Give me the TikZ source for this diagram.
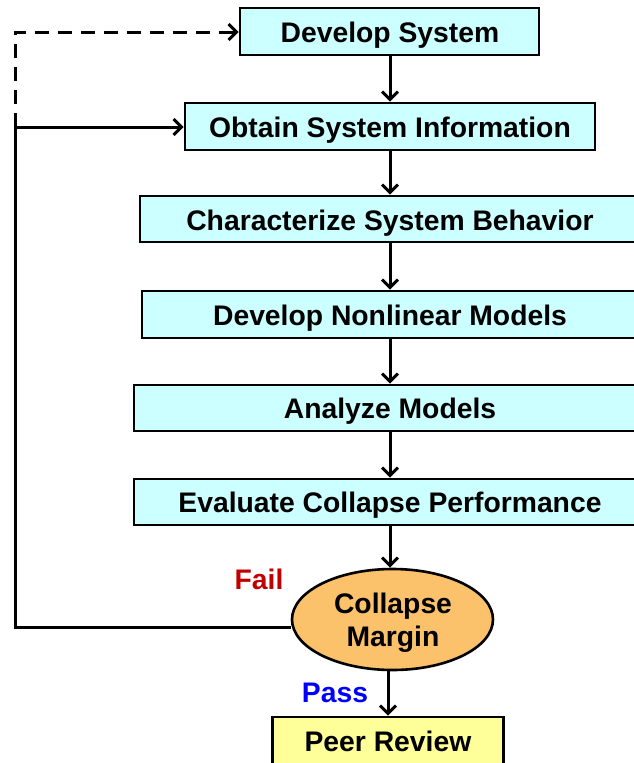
\documentclass[tikz,border=0pt]{standalone}
\usepackage{fontspec}
\setmainfont{Liberation Sans}
\usetikzlibrary{arrows.meta,shapes.geometric}
\definecolor{boxcyan}{HTML}{CCFFFF}
\definecolor{ellorange}{HTML}{FCC26B}
\definecolor{prYellow}{HTML}{FFFF99}
\definecolor{failred}{HTML}{C00000}
\definecolor{passblue}{HTML}{0000FF}
\begin{document}
\begin{tikzpicture}[x=1pt,y=-1pt,
  boxshape/.style={draw=black,line width=2.6pt,fill=boxcyan,rectangle,inner sep=0pt},
  lbl/.style={font=\bfseries\fontsize{28.3}{30}\selectfont,inner sep=0pt,anchor=center},
  flow/.style={line width=3pt,-{Straight Barb[length=8pt,width=16pt,line width=3pt]}},
  plain/.style={line width=3pt},
  dashline/.style={line width=3pt,dash pattern=on 14pt off 9pt}]
\useasboundingbox (0,0) rectangle (634,763);
\clip (0,0) rectangle (634,763);
\fill[white] (0,0) rectangle (634,763);
% boxes
\node[boxshape,minimum width=299pt,minimum height=47pt] (b1) at (389.5,31.5) {};
\node[boxshape,minimum width=410pt,minimum height=47pt] (b2) at (390,126.5) {};
\node[boxshape,minimum width=520pt,minimum height=46pt] (b3) at (400,219) {};
\node[boxshape,minimum width=520pt,minimum height=47pt] (b4) at (402,314.5) {};
\node[boxshape,minimum width=520pt,minimum height=46pt] (b5) at (394,408) {};
\node[boxshape,minimum width=520pt,minimum height=46pt] (b6) at (394,502) {};
\node[ellipse,draw=black,line width=2.6pt,fill=ellorange,minimum width=201pt,minimum height=101pt,inner sep=0pt] (ell) at (392.5,619.5) {};
\node[draw=black,line width=2.6pt,fill=prYellow,rectangle,minimum width=231pt,minimum height=50pt,inner sep=0pt] (b8) at (388,742) {};
% labels
\node[lbl] (t1) at (390,35) {Develop System};
\node[lbl] (t2) at (390,130) {Obtain System Information};
\node[lbl] (t3) at (390,223) {Characterize System Behavior};
\node[lbl] (t4) at (390,318) {Develop Nonlinear Models};
\node[lbl] (t5) at (390,411) {Analyze Models};
\node[lbl] (t6) at (390,505) {Evaluate Collapse Performance};
\node[lbl,align=center,font=\bfseries\fontsize{28.3}{33}\selectfont] (t7) at (393,623) {Collapse\\Margin};
\node[lbl] (t8) at (388,741) {Peer Review};
\node[lbl,text=failred] (fail) at (259,579) {Fail};
\node[lbl,text=passblue] (pass) at (335,693) {Pass};
% connectors
\draw[flow] (t1 |- b1.south) -- (t1 |- b2.north);
\draw[flow] (t2 |- b2.south) -- (t2 |- b3.north);
\draw[flow] (t3 |- b3.south) -- (t3 |- b4.north);
\draw[flow] (t4 |- b4.south) -- (t4 |- b5.north);
\draw[flow] (t5 |- b5.south) -- (t5 |- b6.north);
\draw[flow] (t6 |- b6.south) -- (t6 |- ell.north);
\draw[flow] (t8 |- ell.south) -- (t8 |- b8.north);
\coordinate (cl) at (15,627);
\coordinate (ct) at (15,127);
\coordinate (cu) at (15,32);
\draw[plain] ([yshift=-7.5pt]ell.west) -- (cl) -- (ct);
\draw[flow] (ct) -- (b2.west |- ct);
\draw[dashline] (ct) -- (cu) -- ([xshift=-14pt]b1.west |- cu);
\draw[flow] ([xshift=-16pt]b1.west |- cu) -- (b1.west |- cu);
\end{tikzpicture}
\end{document}
